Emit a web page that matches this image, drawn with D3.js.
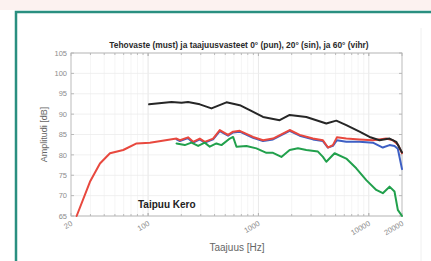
<!DOCTYPE html>
<html><head><meta charset="utf-8">
<script src="https://cdn.jsdelivr.net/npm/d3@7"></script>
<style>html,body{margin:0;padding:0;background:#fff}svg{display:block}</style>
</head><body>
<script>
// ---- data ----
const xTicks = [20, 100, 1000, 10000, 20000];
const xTickLabels = ["20", "100", "1000", "10000", "20000"];
const yTicks = [65, 70, 75, 80, 85, 90, 95, 100, 105];

const blackFreq = [102,163,201,230,294,375,513,677,834,1100,1557,1918,2716,3345,4121,5076,6252,8250,10163,12520,15420,17730,20000];
const blackDb   = [92.4,93.0,92.8,93.0,92.4,91.4,92.9,92.2,91.0,89.3,88.5,89.8,89.3,88.5,87.7,88.4,87.3,85.7,84.4,83.6,84.0,83.2,80.6];

const redFreq = [22.5,29.7,36.6,45.1,59.5,78.6,103.7,181,194,230,256,294,326,388,446,530,589,677,893,1100,1355,1918,2363,3117,3841,4261,4729,5140,6252,8250,10890,14390,16520,18500,20000];
const redDb   = [65,73.4,77.9,80.4,81.2,82.8,83.0,84.0,83.6,84.3,83.2,84.0,83.2,84.0,86.1,84.9,85.7,85.9,84.4,83.6,84.0,86.1,84.9,84.0,83.6,81.8,82.4,84.3,84.0,83.8,83.6,84.0,83.6,82.4,80.4];

const blueFreq = [181,194,230,256,294,326,388,446,530,589,677,893,1100,1355,1918,2363,3117,3841,4261,4729,5140,6252,8250,10890,13400,15420,17100,18330,20000];
const blueDb   = [83.8,83.4,84.1,83.0,83.8,83.0,83.8,85.8,84.7,85.5,85.7,84.2,83.4,83.8,85.9,84.7,83.8,83.4,81.8,82.2,83.6,83.2,83.2,83.0,81.8,82.4,82.2,81.5,76.5];

const greenFreq = [181,215,247,284,326,362,416,462,550,589,632,778,958,1181,1355,1614,1918,2281,2716,3460,3841,4121,4898,6252,7700,9490,11690,13400,15420,17100,18330,20000];
const greenDb   = [82.8,82.4,83.0,82.2,83.0,82.0,82.8,82.4,84.0,84.4,82.0,82.2,81.6,80.5,80.5,79.5,81.2,81.6,81.2,80.8,79.5,78.3,80.4,79.1,76.7,73.8,71.4,70.6,72.2,71.0,66.5,65];

// ---- drawing ----
const W = 431, H = 261;
const svg = d3.select("body").append("svg").attr("width", W).attr("height", H);
svg.append("rect").attr("width", W).attr("height", H).attr("fill", "#fff");
svg.append("rect").attr("width", W).attr("height", 10).attr("fill", "#fcf2f0");
// frame
svg.append("rect").attr("x", 16).attr("y", 12).attr("width", 440).attr("height", 270)
  .attr("fill", "#fff").attr("stroke", "#2a8f80").attr("stroke-width", 2.5);
svg.append("line").attr("x1", 421).attr("x2", 421).attr("y1", 28).attr("y2", 261)
  .attr("stroke", "#f0f0f0").attr("stroke-width", 1);

const L = 71, R = 402, T = 53, B = 216;
const x = d3.scaleLog().domain([20, 20000]).range([L, R]);
const y = d3.scaleLinear().domain([65, 105]).range([B, T]);

const minor = [];
[10, 100, 1000, 10000].forEach(d => { for (let k = 1; k <= 9; k++) { const v = d * k; if (v > 20 && v < 20000) minor.push(v); } });

const g = svg.append("g");
// grid
g.selectAll(".vmin").data(minor).join("line")
  .attr("x1", d => x(d)).attr("x2", d => x(d)).attr("y1", T).attr("y2", B)
  .attr("stroke", "#f3f3f3").attr("stroke-width", 0.8);
g.selectAll(".vmaj").data([100, 1000, 10000]).join("line")
  .attr("x1", d => x(d)).attr("x2", d => x(d)).attr("y1", T).attr("y2", B)
  .attr("stroke", "#e6e6e6").attr("stroke-width", 0.8);
g.selectAll(".hg").data(yTicks).join("line")
  .attr("x1", L).attr("x2", R).attr("y1", d => y(d)).attr("y2", d => y(d))
  .attr("stroke", "#ececec").attr("stroke-width", 0.8);

// axes box
const axCol = "#b4b4b4";
g.append("rect").attr("x", L).attr("y", T).attr("width", R - L).attr("height", B - T)
  .attr("fill", "none").attr("stroke", axCol).attr("stroke-width", 0.9);

// ticks (inward)
const allX = minor.concat(xTicks);
g.selectAll(".xtb").data(allX).join("line")
  .attr("x1", d => x(d)).attr("x2", d => x(d)).attr("y1", B).attr("y2", d => B - (xTicks.includes(d) ? 3 : 2))
  .attr("stroke", axCol).attr("stroke-width", 0.9);
g.selectAll(".xtt").data(allX).join("line")
  .attr("x1", d => x(d)).attr("x2", d => x(d)).attr("y1", T).attr("y2", d => T + (xTicks.includes(d) ? 3 : 2))
  .attr("stroke", axCol).attr("stroke-width", 0.9);
g.selectAll(".ytl").data(yTicks).join("line")
  .attr("x1", L).attr("x2", L + 3).attr("y1", d => y(d)).attr("y2", d => y(d))
  .attr("stroke", axCol).attr("stroke-width", 0.9);
g.selectAll(".ytr").data(yTicks).join("line")
  .attr("x1", R).attr("x2", R - 3).attr("y1", d => y(d)).attr("y2", d => y(d))
  .attr("stroke", axCol).attr("stroke-width", 0.9);

// tick labels
const labCol = "#8c8c8c";
g.selectAll(".yl").data(yTicks).join("text")
  .attr("x", L - 4).attr("y", d => y(d)).attr("dy", "0.35em")
  .attr("text-anchor", "end").attr("font-family", "Liberation Sans, Arial, sans-serif")
  .attr("font-size", 7.5).attr("fill", labCol).text(d => d);
g.selectAll(".xl").data(xTicks).join("text")
  .attr("transform", d => `translate(${x(d) + 2},${B + 9}) rotate(-30)`)
  .attr("text-anchor", "end").attr("font-family", "Liberation Sans, Arial, sans-serif")
  .attr("font-size", 7.5).attr("fill", labCol).text((d, i) => xTickLabels[i]);

// lines
const line = d3.line().x(d => x(d[0])).y(d => y(d[1])).curve(d3.curveLinear);
const series = [
  {f: blueFreq, v: blueDb, c: "#3d5fc4"},
  {f: redFreq, v: redDb, c: "#e8483e"},
  {f: greenFreq, v: greenDb, c: "#21a04c"},
  {f: blackFreq, v: blackDb, c: "#262626"}
];
series.forEach(s => {
  g.append("path").datum(d3.zip(s.f, s.v)).attr("d", line)
    .attr("fill", "none").attr("stroke", s.c).attr("stroke-width", 2)
    .attr("stroke-linejoin", "round").attr("stroke-linecap", "round");
});

// texts
svg.append("text").attr("x", 239).attr("y", 48).attr("text-anchor", "middle")
  .attr("font-family", "Liberation Sans, Arial, sans-serif").attr("font-weight", "bold")
  .attr("font-size", 8.4).attr("fill", "#2a2a2a")
  .text("Tehovaste (must) ja taajuusvasteet 0° (pun), 20° (sin), ja 60° (vihr)");
svg.append("text").attr("x", 237).attr("y", 251).attr("text-anchor", "middle")
  .attr("font-family", "Liberation Sans, Arial, sans-serif").attr("font-size", 10).attr("fill", "#666")
  .text("Taajuus [Hz]");
svg.append("text").attr("transform", `translate(47,${(T + B) / 2}) rotate(-90)`).attr("text-anchor", "middle")
  .attr("font-family", "Liberation Sans, Arial, sans-serif").attr("font-size", 9).attr("fill", "#666")
  .text("Amplitudi [dB]");
svg.append("text").attr("x", 138).attr("y", 208)
  .attr("font-family", "Liberation Sans, Arial, sans-serif").attr("font-weight", "bold")
  .attr("font-size", 10).attr("fill", "#222").text("Taipuu Kero");
</script>
</body></html>
